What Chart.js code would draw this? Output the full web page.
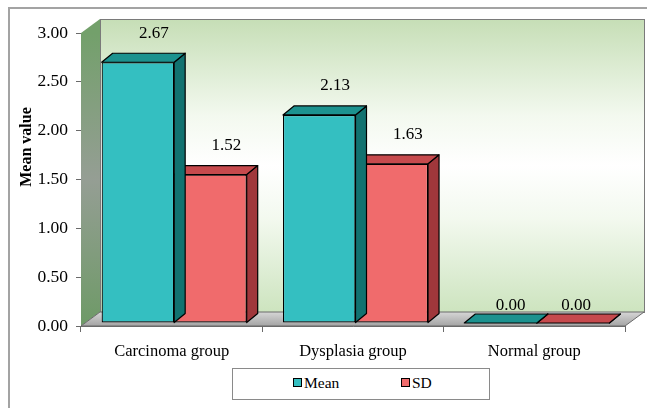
<!DOCTYPE html>
<html>
<head>
<meta charset="utf-8">
<script src="https://cdn.jsdelivr.net/npm/chart.js@4.4.1/dist/chart.umd.min.js"></script>
<style>
  html, body { margin: 0; padding: 0; background: #fff; overflow: hidden; }
  #wrap { position: relative; width: 647px; height: 408px; }
  #frame { position: absolute; left: 8px; top: 7px; width: 700px; height: 500px;
           border-left: 2px solid #a3a3a3; border-top: 2px solid #a3a3a3; }
  canvas { position: absolute; left: 0; top: 0; }
  #legend { position: absolute; left: 232px; top: 368px; width: 256px; height: 30px;
            border: 1px solid #8a8a8a; background: #fff;
            font-family: "Liberation Serif", serif; font-size: 15.5px; color: #000; }
  #legend span.item { position: absolute; top: 5px; white-space: nowrap; }
  #legend i { display: inline-block; width: 7px; height: 7px; border: 1px solid #000;
              margin-right: 2px; vertical-align: 1px; }
</style>
</head>
<body>
<div id="wrap">
  <div id="frame"></div>
  <canvas id="chart" width="647" height="408"></canvas>
  <div id="legend"></div>
</div>
<script>
const categories = ['Carcinoma group', 'Dysplasia group', 'Normal group'];
const meanValues = [2.67, 2.13, 0.00];
const sdValues = [1.52, 1.63, 0.00];
const seriesNames = ['Mean', 'SD'];
const yTicks = [0, 0.5, 1, 1.5, 2, 2.5, 3];

// face colours: front, top, side
const faces = [
  { front: '#34bfc1', top: '#1c928f', side: '#127270' },
  { front: '#f06b6c', top: '#c64a4d', side: '#a0373b' }
];

const WALL_DX = 19, WALL_DY = -14;   // depth of the 3d box
const BAR_DX = 11, BAR_DY = -9;      // depth of each bar
const SHIFT_X = 2.5, SHIFT_Y = -3;   // bars sit a little inside the box

const box3d = {
  id: 'box3d',
  beforeDatasetsDraw(chart) {
    const ctx = chart.ctx;
    const a = chart.chartArea;
    ctx.save();
    // left wall
    let g = ctx.createLinearGradient(0, a.top, 0, a.bottom);
    g.addColorStop(0, '#73a06b');
    g.addColorStop(0.5, '#959e94');
    g.addColorStop(1, '#6e9a67');
    ctx.fillStyle = g;
    ctx.beginPath();
    ctx.moveTo(a.left, a.top);
    ctx.lineTo(a.left + WALL_DX, a.top + WALL_DY);
    ctx.lineTo(a.left + WALL_DX, a.bottom + WALL_DY);
    ctx.lineTo(a.left, a.bottom);
    ctx.closePath();
    ctx.fill();
    // back wall
    g = ctx.createLinearGradient(0, a.top + WALL_DY, 0, a.bottom + WALL_DY);
    g.addColorStop(0, '#c6deb6');
    g.addColorStop(0.33, '#f3f9ef');
    g.addColorStop(0.5, '#ffffff');
    g.addColorStop(0.68, '#f3f9ef');
    g.addColorStop(1, '#cde4bf');
    ctx.fillStyle = g;
    ctx.fillRect(a.left + WALL_DX, a.top + WALL_DY, a.right - a.left, a.bottom - a.top);
    ctx.strokeStyle = '#7a7a7a';
    ctx.lineWidth = 1;
    ctx.strokeRect(a.left + WALL_DX + 0.5, a.top + WALL_DY + 0.5, a.right - a.left, a.bottom - a.top);
    // floor
    g = ctx.createLinearGradient(0, a.bottom + WALL_DY, 0, a.bottom);
    g.addColorStop(0, '#d6d6d6');
    g.addColorStop(1, '#a4a4a4');
    ctx.fillStyle = g;
    ctx.beginPath();
    ctx.moveTo(a.left, a.bottom);
    ctx.lineTo(a.left + WALL_DX, a.bottom + WALL_DY);
    ctx.lineTo(a.right + WALL_DX, a.bottom + WALL_DY);
    ctx.lineTo(a.right, a.bottom);
    ctx.closePath();
    ctx.fill();
    ctx.strokeStyle = '#6a6a6a';
    ctx.stroke();
    ctx.restore();
  },
  beforeDatasetDraw(chart) {
    chart.ctx.save();
    chart.ctx.translate(SHIFT_X, SHIFT_Y);
  },
  afterDatasetDraw(chart, args) {
    const ctx = chart.ctx;
    const c = faces[args.index];
    args.meta.data.forEach(el => {
      const p = el.getProps(['x', 'y', 'base', 'width'], true);
      const L = p.x - p.width / 2, R = p.x + p.width / 2;
      ctx.lineWidth = 1.2;
      ctx.strokeStyle = '#000';
      ctx.lineJoin = 'round';
      // side
      ctx.fillStyle = c.side;
      ctx.beginPath();
      ctx.moveTo(R, p.y);
      ctx.lineTo(R + BAR_DX, p.y + BAR_DY);
      ctx.lineTo(R + BAR_DX, p.base + BAR_DY);
      ctx.lineTo(R, p.base);
      ctx.closePath();
      ctx.fill(); ctx.stroke();
      // top
      ctx.fillStyle = c.top;
      ctx.beginPath();
      ctx.moveTo(L, p.y);
      ctx.lineTo(L + BAR_DX, p.y + BAR_DY);
      ctx.lineTo(R + BAR_DX, p.y + BAR_DY);
      ctx.lineTo(R, p.y);
      ctx.closePath();
      ctx.fill(); ctx.stroke();
    });
    ctx.restore();
  },
  afterDatasetsDraw(chart) {
    const ctx = chart.ctx;
    ctx.save();
    ctx.fillStyle = '#000';
    ctx.font = '17px "Liberation Serif"';
    ctx.textAlign = 'center';
    ctx.textBaseline = 'middle';
    chart.data.datasets.forEach((ds, i) => {
      chart.getDatasetMeta(i).data.forEach((el, j) => {
        const v = ds.data[j];
        const zero = v === 0;
        const x = el.x + SHIFT_X + (zero ? (i === 0 ? 10 : 3) : 16);
        const y = el.y + SHIFT_Y - (zero ? 17 : 29);
        ctx.fillText(v.toFixed(2), x, y);
      });
    });
    // y axis title
    ctx.font = 'bold 16px "Liberation Serif"';
    ctx.translate(27, 147);
    ctx.rotate(-Math.PI / 2);
    ctx.fillText('Mean value', 0, 0);
    ctx.restore();
  }
};

new Chart(document.getElementById('chart'), {
  type: 'bar',
  data: {
    labels: categories,
    datasets: [
      { label: seriesNames[0], data: meanValues, backgroundColor: faces[0].front,
        borderColor: '#000', borderWidth: 1.2, borderSkipped: false },
      { label: seriesNames[1], data: sdValues, backgroundColor: faces[1].front,
        borderColor: '#000', borderWidth: 1.2, borderSkipped: false }
    ]
  },
  options: {
    responsive: false,
    animation: false,
    layout: { padding: { top: 33, right: 22, left: 0, bottom: 0 } },
    datasets: { bar: { categoryPercentage: 0.8, barPercentage: 1.0, clip: false } },
    plugins: {
      legend: { display: false },
      tooltip: { enabled: false }
    },
    scales: {
      x: {
        grid: { drawOnChartArea: false, offset: true, tickLength: 6, color: '#6a6a6a' },
        border: { color: '#6a6a6a' },
        ticks: { color: '#000', padding: 10, font: { family: 'Liberation Serif', size: 16.5 } },
        afterFit(s) { s.height = 82; }
      },
      y: {
        min: 0, max: 3,
        afterBuildTicks(s) { s.ticks = yTicks.map(v => ({ value: v })); },
        grid: { drawOnChartArea: false, tickLength: 5, color: '#6a6a6a' },
        border: { color: '#6a6a6a' },
        ticks: { color: '#000', padding: 8, font: { family: 'Liberation Serif', size: 17.5 },
                 callback: v => Number(v).toFixed(2) },
        afterFit(s) { s.width = 81; }
      }
    }
  },
  plugins: [box3d]
});

// legend
const legend = document.getElementById('legend');
const legendX = [60, 168];
seriesNames.forEach((name, i) => {
  const item = document.createElement('span');
  item.className = 'item';
  item.style.left = legendX[i] + 'px';
  const sw = document.createElement('i');
  sw.style.background = faces[i].front;
  item.appendChild(sw);
  item.appendChild(document.createTextNode(name));
  legend.appendChild(item);
});
</script>
</body>
</html>
